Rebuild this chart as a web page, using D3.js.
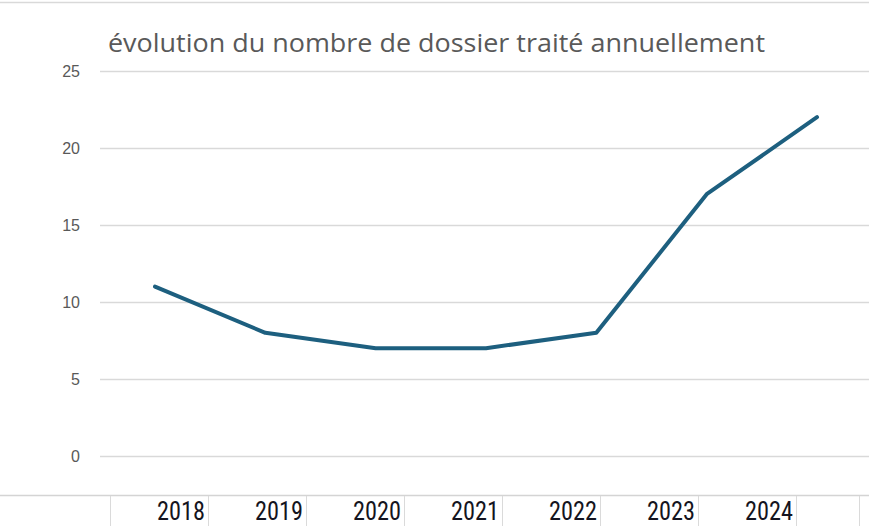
<!DOCTYPE html>
<html>
<head>
<meta charset="utf-8">
<script src="https://cdn.jsdelivr.net/npm/d3@7"></script>
<style>
  body { margin: 0; background: #fff; }
  svg { display: block; }
</style>
</head>
<body>
<div id="container"></div>
<script>
const years = ["2018", "2019", "2020", "2021", "2022", "2023", "2024"];
const dossiers = [11, 8, 7, 7, 8, 17, 22];
const yTicks = [0, 5, 10, 15, 20, 25];
const title = "évolution du nombre de dossier traité annuellement";

const w = 869;
const h = 526;

const svg = d3
  .select("#container")
  .append("svg")
  .attr("width", w)
  .attr("height", h);

const xScale = d3
  .scalePoint()
  .domain(years)
  .range([155, 817]);

const yScale = d3
  .scaleLinear()
  .domain([0, 25])
  .range([456, 71]);

// top border of the chart frame
svg
  .append("line")
  .attr("x1", 0)
  .attr("x2", w)
  .attr("y1", 2.5)
  .attr("y2", 2.5)
  .attr("stroke", "#d9d9d9")
  .attr("stroke-width", 1.5);

svg
  .append("text")
  .attr("x", 108)
  .attr("y", 52)
  .attr("textLength", 657)
  .attr("lengthAdjust", "spacingAndGlyphs")
  .style("font-family", "'Open Sans', Roboto, sans-serif")
  .style("font-size", "25px")
  .style("fill", "#595959")
  .text(title);

// gridlines + y labels
const yAxis = svg
  .append("g")
  .attr("transform", "translate(100, 0)")
  .call(
    d3.axisLeft(yScale)
      .tickValues(yTicks)
      .tickSize(-(w - 100))
      .tickPadding(20)
  );

yAxis.select(".domain").remove();
yAxis.selectAll(".tick line").attr("stroke", "#d9d9d9").attr("stroke-width", 1.3);
yAxis
  .selectAll(".tick text")
  .style("font-family", "'Liberation Sans', Arial, sans-serif")
  .style("font-size", "16px")
  .style("fill", "#595959");

const line = d3
  .line()
  .x((d, i) => xScale(years[i]))
  .y((d) => yScale(d));

svg
  .append("path")
  .datum(dossiers)
  .attr("d", line)
  .attr("fill", "none")
  .attr("stroke", "#1d5f7f")
  .attr("stroke-width", 4)
  .attr("stroke-linejoin", "round")
  .attr("stroke-linecap", "round");

// spreadsheet row below the chart
const cellScale = d3
  .scaleBand()
  .domain(years)
  .range([110, 110 + 98 * years.length]);

svg
  .append("line")
  .attr("x1", 0)
  .attr("x2", w)
  .attr("y1", 495.5)
  .attr("y2", 495.5)
  .attr("stroke", "#d4d4d4")
  .attr("stroke-width", 1.5);

const borders = [cellScale.range()[0]].concat(years.map((y) => cellScale(y) + cellScale.bandwidth()), [859]);

svg
  .selectAll(".cell-border")
  .data(borders)
  .enter()
  .append("line")
  .attr("class", "cell-border")
  .attr("x1", (d) => d + 0.5)
  .attr("x2", (d) => d + 0.5)
  .attr("y1", 496)
  .attr("y2", h)
  .attr("stroke", "#dadada");

svg
  .selectAll(".year")
  .data(years)
  .enter()
  .append("text")
  .attr("class", "year")
  .attr("x", (d) => cellScale(d) + cellScale.bandwidth() - 3)
  .attr("y", 520)
  .attr("text-anchor", "end")
  .attr("textLength", 48)
  .attr("lengthAdjust", "spacingAndGlyphs")
  .style("font-family", "'Liberation Sans Narrow', 'Roboto Condensed', 'DejaVu Sans Condensed', sans-serif")
  .style("font-size", "25px")
  .style("fill", "#141420")
  .text((d) => d);
</script>
</body>
</html>
